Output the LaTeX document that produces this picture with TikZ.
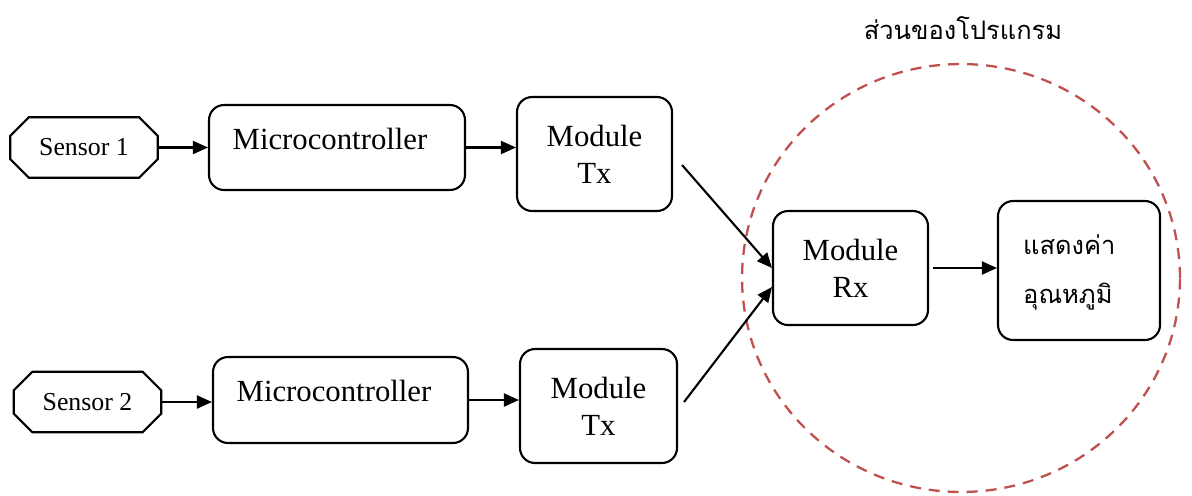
\documentclass[tikz,border=0pt]{standalone}
\usepackage{fontspec}
\setmainfont{Liberation Serif}
\newfontfamily\thaifont[Script=Thai]{Loma}
\usetikzlibrary{arrows.meta,shapes.misc,calc}

\tikzset{
  box/.style={draw, line width=1.2pt, rounded corners=0.3cm, align=center,
              font=\fontsize{17.5}{21}\selectfont, inner sep=0pt},
  sensor/.style={draw, line width=1.2pt, chamfered rectangle,
                 chamfered rectangle xsep=0.36cm, chamfered rectangle ysep=0.2cm,
                 minimum width=2.95cm, minimum height=1.21cm, inner sep=0pt,
                 font=\fontsize{14.7}{17}\selectfont},
  flow/.style={line width=1.2pt, -{Triangle[length=0.3cm,width=0.26cm]}},
  zone/.style={draw={rgb,255:red,192;green,80;blue,77}, line width=1.3pt,
               dash pattern=on 0.22cm off 0.16cm},
}

\begin{document}
\begin{tikzpicture}[x=0.02cm, y=-0.02cm]
  \useasboundingbox (0,0) rectangle (1192,495);

  % program part
  \draw[zone] (961,278) ellipse [x radius=4.38cm, y radius=4.28cm];
  \node[font=\thaifont\fontsize{14.5}{18}\selectfont] (title) at (963,28) {ส่วนของโปรแกรม};

  % transmitter chain 1
  \node[sensor] (s1) at (84,147.5) {Sensor 1};
  \node[box, minimum width=5.12cm, minimum height=1.7cm] (m1) at (337,147.5) {};
  \node[font=\fontsize{17.5}{21}\selectfont] (m1t) at (330,139) {Microcontroller};
  \node[box, minimum width=3.1cm, minimum height=2.28cm] (tx1) at (594.5,154) {Module\\Tx};

  % transmitter chain 2
  \node[sensor] (s2) at (87.5,402) {Sensor 2};
  \node[box, minimum width=5.1cm, minimum height=1.72cm] (m2) at (340.5,400) {};
  \node[font=\fontsize{17.5}{21}\selectfont] (m2t) at (334,391) {Microcontroller};
  \node[box, minimum width=3.14cm, minimum height=2.28cm] (tx2) at (598.5,406) {Module\\Tx};

  % receiver and display
  \node[box, minimum width=3.1cm, minimum height=2.28cm] (rx) at (850.5,268) {Module\\Rx};
  \node[box, minimum width=3.24cm, minimum height=2.78cm] (disp) at (1079,270.5) {};
  \node[font=\thaifont\fontsize{14.5}{18}\selectfont, anchor=west] (d1) at (1017,245) {แสดงค่า};
  \node[font=\thaifont\fontsize{14.5}{18}\selectfont, anchor=west] (d2) at (1017,297) {อุณหภูมิ};

  % connections
  \draw[flow] (s1.east) -- (m1.west);
  \draw[flow] (m1.east) -- (tx1.west |- m1.east);
  \draw[flow] (s2.east) -- (s2.east -| m2.west);
  \draw[flow] (m2.east) -- (m2.east -| tx2.west);
  \draw[flow] ($(tx1.east)+(9,11)$) -- (rx.west);
  \draw[flow] ($(tx2.east)+(6,-4)$) -- ($(rx.west)+(0,19)$);
  \draw[flow] ($(rx.east)+(4,0)$) -- (rx.east -| disp.west);
\end{tikzpicture}
\end{document}
